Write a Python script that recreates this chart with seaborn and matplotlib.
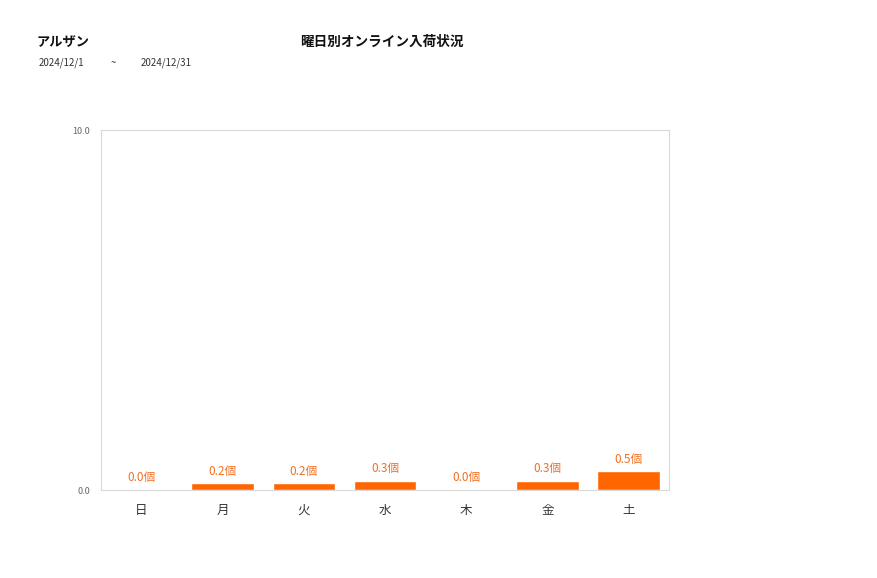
import matplotlib
matplotlib.use("Agg")
import matplotlib.pyplot as plt
import seaborn as sns
import pandas as pd

days = ["日", "月", "火", "水", "木", "金", "土"]
values = [0.0, 0.19, 0.19, 0.26, 0.0, 0.26, 0.52]
y_ticks = [0.0, 10.0]

sns.set_theme(style="white")
plt.rcParams['font.family'] = ['Noto Sans CJK JP', 'DejaVu Sans']

df = pd.DataFrame({"day": days, "value": values})

fig = plt.figure(figsize=(8.77, 5.78), dpi=100)
ax = fig.add_axes([101/877, 1-490/578, (669-101)/877, (490-130)/578])
sns.barplot(data=df, x="day", y="value", color="#FF6600", saturation=1, width=0.77, ax=ax)

ax.set_ylim(0, 10)
ax.set_xlim(-0.5, 6.5)
ax.set_yticks(y_ticks)
ax.set_yticklabels([f"{v:.1f}" for v in y_ticks], fontsize=6.5, color="#666666")
ax.tick_params(axis="x", labelsize=9, colors="#333333", length=0, pad=10)
ax.tick_params(axis="y", length=0, pad=8)
ax.set_xlabel("")
ax.set_ylabel("")
for s in ax.spines.values():
    s.set_color("#d9d9d9")
    s.set_linewidth(0.8)

for i, v in enumerate(values):
    ax.annotate(f"{v:.1f}個", (i, v), xytext=(0, 4), textcoords="offset points",
                ha="center", va="bottom", fontsize=8.5, color="#F07020")

fig.text(37/877, 1-42/578, "アルザン", fontsize=9.5, fontweight="bold", ha="left", va="center", color="#111111")
fig.text(382/877, 1-42/578, "曜日別オンライン入荷状況", fontsize=9.8, fontweight="bold", ha="center", va="center", color="#111111")
fig.text(39/877, 1-63/578, "2024/12/1", fontsize=7, ha="left", va="center", color="#333333")
fig.text(113/877, 1-63/578, "~", fontsize=7, ha="center", va="center", color="#333333")
fig.text(141/877, 1-63/578, "2024/12/31", fontsize=7, ha="left", va="center", color="#333333")

fig.savefig("out.png", dpi=100)
